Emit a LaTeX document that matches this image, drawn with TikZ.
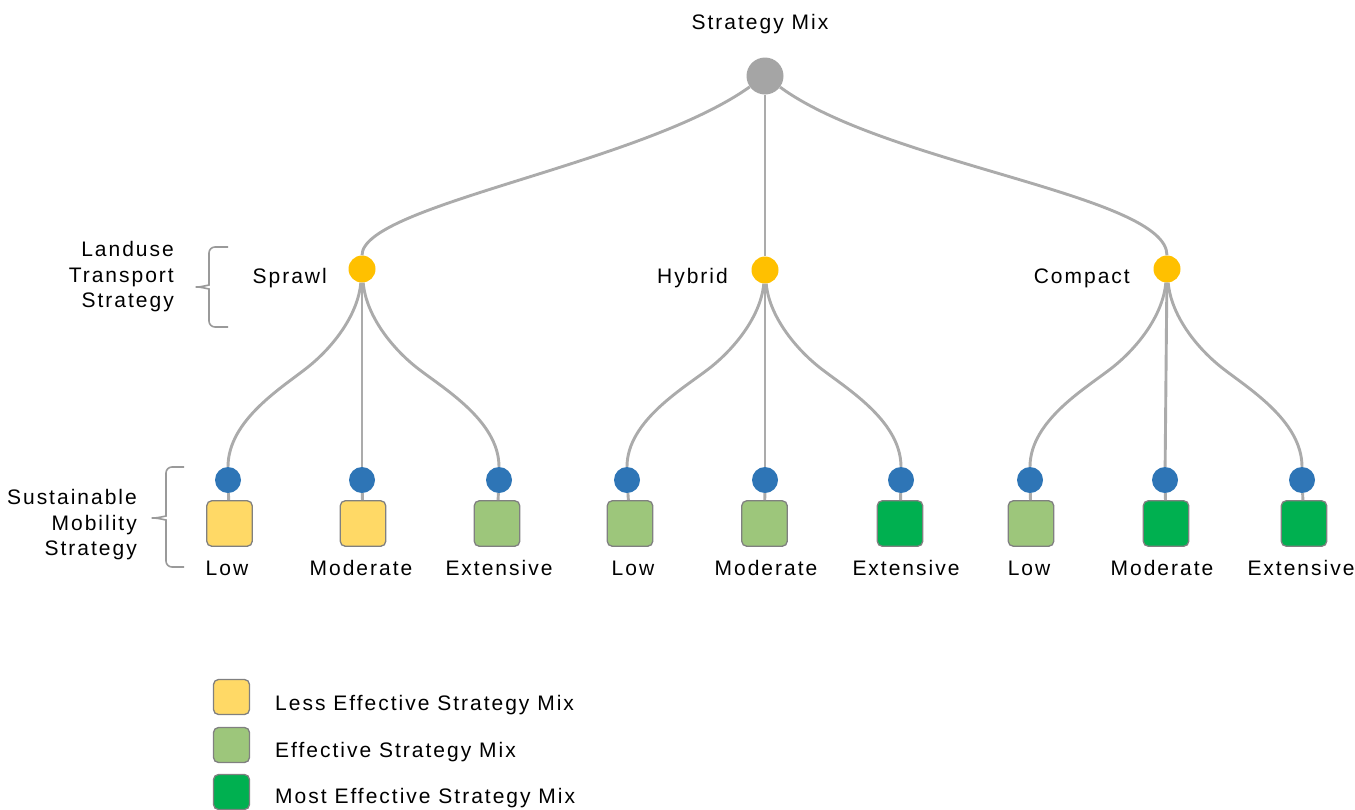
\documentclass[tikz,border=0pt]{standalone}
\usepackage{fontspec}
\setmainfont{Liberation Sans}[LetterSpace=9.5]

\definecolor{edgeGray}{HTML}{ABABAB}
\definecolor{rootGray}{HTML}{A5A5A5}
\definecolor{landYellow}{HTML}{FFC000}
\definecolor{mobBlue}{HTML}{2E75B6}
\definecolor{lessEff}{HTML}{FFD966}
\definecolor{eff}{HTML}{9DC67B}
\definecolor{mostEff}{HTML}{00B050}
\definecolor{boxBorder}{HTML}{808080}
\definecolor{braceGray}{HTML}{9A9A9A}

\tikzset{
  edge/.style={draw=edgeGray, line width=2.9pt},
  rootDot/.style={circle, fill=rootGray, minimum size=37pt, inner sep=0pt},
  landDot/.style={circle, fill=landYellow, minimum size=27pt, inner sep=0pt},
  mobDot/.style={circle, fill=mobBlue, minimum size=26pt, inner sep=0pt},
  mixBox/.style={draw=boxBorder, line width=1.3pt, rounded corners=5pt, minimum size=45.5pt, inner sep=0pt},
  keyBox/.style={mixBox, minimum width=36pt, minimum height=35pt},
  txt/.style={font=\fontsize{21}{25.5}\selectfont, inner sep=0pt},
  bracket/.style={draw=braceGray, line width=1.6pt, rounded corners=6pt}
}

\begin{document}
\begin{tikzpicture}[x=1pt, y=-1pt]
        \useasboundingbox (0,0) rectangle (1355,809);

        % strategy mix and landuse transport strategies
        \node[rootDot] (mix) at (765,76) {};
        \node[landDot] (sprawl) at (362,269) {};
        \node[landDot] (hybrid) at (765,270) {};
        \node[landDot] (compact) at (1167,269) {};

        \node[txt, anchor=base] (mixTxt) at (760,29) {Strategy Mix};
        \node[txt, anchor=base east] (sprawlTxt) at (327,283) {Sprawl};
        \node[txt, anchor=base east] (hybridTxt) at (728,283) {Hybrid};
        \node[txt, anchor=base east] (compactTxt) at (1130,283) {Compact};

        % sustainable mobility strategies
        \node[mobDot] (sLow) at (228,480) {};
        \node[mobDot] (sMod) at (362,480) {};
        \node[mobDot] (sExt) at (499,480) {};
        \node[mobDot] (hLow) at (627,480) {};
        \node[mobDot] (hMod) at (765,480) {};
        \node[mobDot] (hExt) at (901,480) {};
        \node[mobDot] (cLow) at (1030,480) {};
        \node[mobDot] (cMod) at (1165,480) {};
        \node[mobDot] (cExt) at (1302,480) {};

        \node[mixBox, fill=lessEff] (sLowBox) at (229.5,523.5) {};
        \node[mixBox, fill=lessEff] (sModBox) at (363,523.5) {};
        \node[mixBox, fill=eff] (sExtBox) at (497,523.5) {};
        \node[mixBox, fill=eff] (hLowBox) at (630,523.5) {};
        \node[mixBox, fill=eff] (hModBox) at (764.5,523.5) {};
        \node[mixBox, fill=mostEff] (hExtBox) at (900,523.5) {};
        \node[mixBox, fill=eff] (cLowBox) at (1031,523.5) {};
        \node[mixBox, fill=mostEff] (cModBox) at (1166,523.5) {};
        \node[mixBox, fill=mostEff] (cExtBox) at (1304,523.5) {};

        \node[txt, anchor=base] (sLowTxt) at (227,575) {Low};
        \node[txt, anchor=base] (sModTxt) at (361,575) {Moderate};
        \node[txt, anchor=base] (sExtTxt) at (499,575) {Extensive};
        \node[txt, anchor=base] (hLowTxt) at (633,575) {Low};
        \node[txt, anchor=base] (hModTxt) at (766,575) {Moderate};
        \node[txt, anchor=base] (hExtTxt) at (906,575) {Extensive};
        \node[txt, anchor=base] (cLowTxt) at (1029,575) {Low};
        \node[txt, anchor=base] (cModTxt) at (1162,575) {Moderate};
        \node[txt, anchor=base] (cExtTxt) at (1301,575) {Extensive};

        % liens du haut
        \draw[edge] (mix) .. controls (640,165) and (362,205) .. (sprawl);
        \draw[edge] (mix) -- (hybrid);
        \draw[edge] (mix) .. controls (886,165) and (1167,195) .. (compact);

        % liens vers les strategies de mobilite
        \draw[edge] (sprawl) .. controls (358,315) and (333,347) .. (308,367)
                    .. controls (283,387) and (228,420) .. (sLow);
        \draw[edge] (sprawl) -- (sMod);
        \draw[edge] (sprawl) .. controls (366,315) and (391,347) .. (416,367)
                    .. controls (441,387) and (499,420) .. (sExt);

        \draw[edge] (hybrid) .. controls (761,315) and (736,347) .. (711,367)
                    .. controls (686,387) and (627,420) .. (hLow);
        \draw[edge] (hybrid) -- (hMod);
        \draw[edge] (hybrid) .. controls (769,315) and (794,347) .. (819,367)
                    .. controls (844,387) and (901,420) .. (hExt);

        \draw[edge] (compact) .. controls (1163,315) and (1138,347) .. (1113,367)
                    .. controls (1088,387) and (1030,420) .. (cLow);
        \draw[edge] (compact) -- (cMod);
        \draw[edge] (compact) .. controls (1171,315) and (1196,347) .. (1221,367)
                    .. controls (1246,387) and (1302,420) .. (cExt);

        % petits liens vers les carres
        \draw[edge] (sLow) -- (sLowBox);
        \draw[edge] (sMod) -- (sModBox);
        \draw[edge] (sExt) -- (sExtBox);
        \draw[edge] (hLow) -- (hLowBox);
        \draw[edge] (hMod) -- (hModBox);
        \draw[edge] (hExt) -- (hExtBox);
        \draw[edge] (cLow) -- (cLowBox);
        \draw[edge] (cMod) -- (cModBox);
        \draw[edge] (cExt) -- (cExtBox);

        % niveaux a gauche
        \node[txt, align=right, anchor=east] (landTxt) at (174,277)
             {Landuse\\Transport\\Strategy};
        \draw[bracket] (228,247) -| (209,279)
             .. controls (209,285) and (200,287) .. (192,287)
             .. controls (200,287) and (209,289) .. (209,295) |- (228,327);

        \node[txt, align=right, anchor=east] (mobTxt) at (137,525)
             {Sustainable\\Mobility\\Strategy};
        \draw[bracket] (184,467) -| (166,510)
             .. controls (166,516) and (157,518) .. (148,518)
             .. controls (157,518) and (166,520) .. (166,526) |- (184,567);

        % legende
        \node[keyBox, fill=lessEff] (lessKey) at (231.5,697) {};
        \node[keyBox, fill=eff] (effKey) at (231.5,745) {};
        \node[keyBox, fill=mostEff] (mostKey) at (231.5,792) {};
        \node[txt, anchor=base west] (lessTxt) at (275,710) {Less Effective Strategy Mix};
        \node[txt, anchor=base west] (effTxt) at (275,757) {Effective Strategy Mix};
        \node[txt, anchor=base west] (mostTxt) at (275,803) {Most Effective Strategy Mix};
\end{tikzpicture}
\end{document}
